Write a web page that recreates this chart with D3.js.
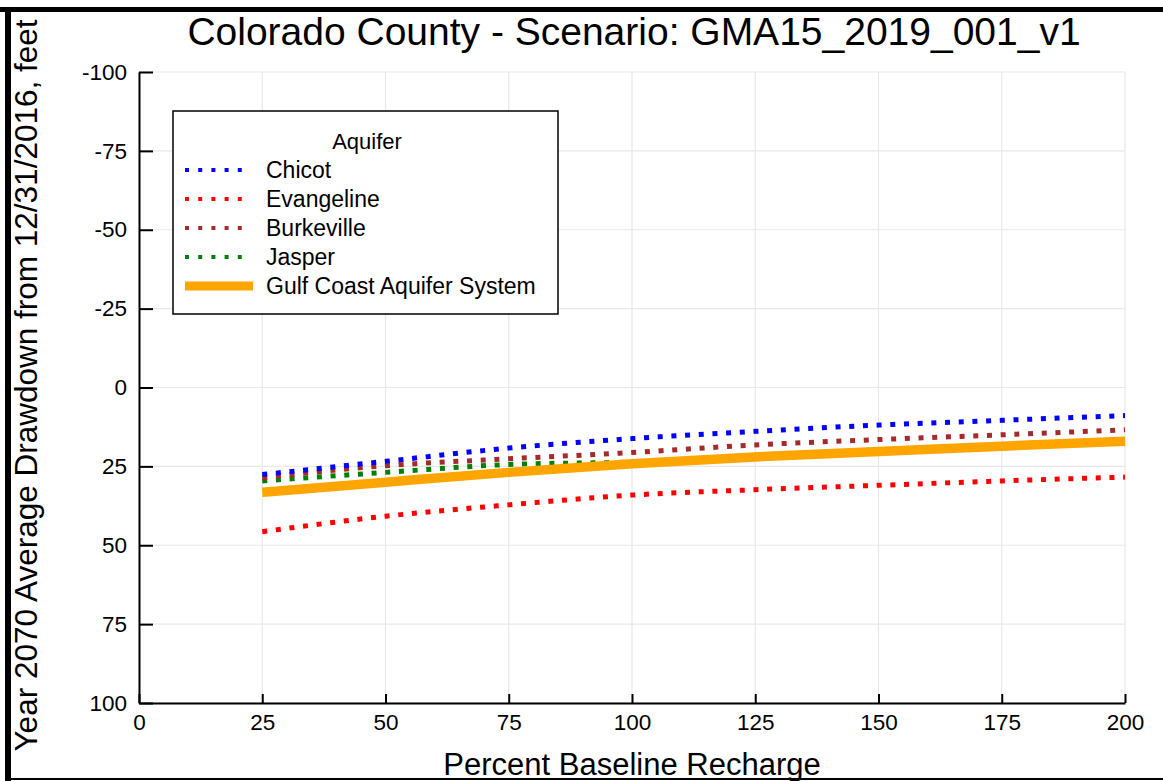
<!DOCTYPE html>
<html>
<head>
<meta charset="utf-8">
<script src="https://cdn.jsdelivr.net/npm/d3@7"></script>
<style>
  html, body { margin: 0; padding: 0; background: #fff; }
  svg { display: block; }
  text { font-family: "Liberation Sans", Arial, Helvetica, sans-serif; fill: #000; }
</style>
</head>
<body>
<svg id="chart" width="1163" height="781"></svg>
<script>
// Percent of baseline recharge simulated
const recharge = [25, 50, 75, 100, 125, 150, 175, 200];

// Year 2070 average drawdown (feet) per aquifer
const chicot     = [27.6, 23.4, 19.2, 16.2, 13.9, 11.9, 10.4, 8.9];
const evangeline = [45.7, 40.8, 37.2, 34.1, 32.4, 31.0, 29.6, 28.4];
const burkeville = [28.6, 24.8, 22.6, 20.6, 18.2, 16.5, 15.0, 13.4];
const jasper     = [29.6, 26.9, 24.4, 23.6, 21.5, 19.8, 18.1, 16.5];
const gulfCoast  = [33.2, 30.0, 26.9, 24.2, 22.0, 20.3, 18.6, 17.0];

const xTicks = [0, 25, 50, 75, 100, 125, 150, 175, 200];
const yTicks = [-100, -75, -50, -25, 0, 25, 50, 75, 100];

const series = [
  { name: "Chicot",     values: chicot,     color: "#0000ff", dotted: true },
  { name: "Evangeline", values: evangeline, color: "#ff0000", dotted: true },
  { name: "Burkeville", values: burkeville, color: "#a52a2a", dotted: true },
  { name: "Jasper",     values: jasper,     color: "#008000", dotted: true },
  { name: "Gulf Coast Aquifer System", values: gulfCoast, color: "#ffa500", dotted: false }
];

const svg = d3.select("#chart");
const W = 1163, H = 781;
const plot = { left: 139, right: 1125, top: 72, bottom: 703 };

const x = d3.scaleLinear().domain([0, 200]).range([plot.left, plot.right]);
// drawdown axis runs downward: negative values at the top
const y = d3.scaleLinear().domain([-100, 100]).range([plot.top, plot.bottom]);

svg.append("rect").attr("x", 0).attr("y", 0).attr("width", W).attr("height", H).attr("fill", "#fff");

// grid
const grid = svg.append("g").attr("stroke", "#e8e8e8").attr("stroke-width", 1.2);
grid.selectAll("line.vx").data(xTicks).join("line")
  .attr("x1", d => x(d)).attr("x2", d => x(d))
  .attr("y1", plot.top).attr("y2", plot.bottom);
grid.selectAll("line.hy").data(yTicks).join("line")
  .attr("x1", plot.left).attr("x2", plot.right)
  .attr("y1", d => y(d)).attr("y2", d => y(d));

// axes (plain hyphen-minus in labels)
const fmt = d => String(d);
const xAxis = d3.axisBottom(x).tickValues(xTicks).tickFormat(fmt).tickSizeInner(-9).tickSizeOuter(0).tickPadding(11);
const yAxis = d3.axisLeft(y).tickValues(yTicks).tickFormat(fmt).tickSizeInner(-14).tickSizeOuter(0).tickPadding(12);

const gx = svg.append("g").attr("transform", `translate(0,${plot.bottom})`).call(xAxis);
const gy = svg.append("g").attr("transform", `translate(${plot.left},0)`).call(yAxis);

[gx, gy].forEach(g => {
  g.select(".domain").attr("stroke", "#000").attr("stroke-width", 2);
  g.selectAll(".tick line").attr("stroke", "#000").attr("stroke-width", 2);
  g.selectAll(".tick text")
    .style("font-family", '"Liberation Sans", Arial, sans-serif')
    .style("font-size", "22.5px").attr("fill", "#000");
});
gx.selectAll(".tick text").attr("dy", "0.71em");

// data lines
const line = d3.line()
  .x((d, i) => x(recharge[i]))
  .y(d => y(d))
  .curve(d3.curveMonotoneX);

const linesG = svg.append("g");
// dotted aquifers first, total system on top
const drawOrder = [3, 2, 0, 1, 4];
drawOrder.forEach(k => {
  const s = series[k];
  linesG.append("path")
    .datum(s.values)
    .attr("d", line)
    .attr("fill", "none")
    .attr("stroke", s.color)
    .attr("stroke-width", s.dotted ? 5 : 9.5)
    .attr("stroke-dasharray", s.dotted ? "5 8.7" : null)
    .attr("stroke-linecap", "butt");
});

// legend
const lg = svg.append("g");
lg.append("rect")
  .attr("x", 173).attr("y", 111).attr("width", 385).attr("height", 203)
  .attr("fill", "#fff").attr("stroke", "#000").attr("stroke-width", 1.5);
lg.append("text")
  .attr("x", 367).attr("y", 149).attr("text-anchor", "middle")
  .style("font-size", "22px").text("Aquifer");
series.forEach((s, i) => {
  const cy = 170 + i * 29;
  lg.append("line")
    .attr("x1", 185).attr("x2", s.dotted ? 250 : 253)
    .attr("y1", cy).attr("y2", cy)
    .attr("stroke", s.color)
    .attr("stroke-width", s.dotted ? 4 : 9)
    .attr("stroke-dasharray", s.dotted ? "4 9.2" : null);
  lg.append("text")
    .attr("x", 266).attr("y", cy + 8)
    .style("font-size", "23px").text(s.name);
});

// title and axis labels
svg.append("text")
  .attr("x", 634).attr("y", 45).attr("text-anchor", "middle")
  .style("font-size", "39px")
  .text("Colorado County - Scenario: GMA15_2019_001_v1");

svg.append("text")
  .attr("x", 632).attr("y", 775).attr("text-anchor", "middle")
  .style("font-size", "31px")
  .text("Percent Baseline Recharge");

svg.append("text")
  .attr("transform", `translate(37,${(plot.top + plot.bottom) / 2 - 2}) rotate(-90)`)
  .attr("text-anchor", "middle")
  .style("font-size", "31.5px")
  .text("Year 2070 Average Drawdown from 12/31/2016, feet");

// page border
svg.append("rect").attr("x", 0).attr("y", 7).attr("width", W).attr("height", 5).attr("fill", "#000");
svg.append("rect").attr("x", 5).attr("y", 7).attr("width", 6).attr("height", H - 7).attr("fill", "#000");
svg.append("rect").attr("x", 5).attr("y", 778).attr("width", W - 5).attr("height", 2).attr("fill", "#000");
</script>
</body>
</html>
